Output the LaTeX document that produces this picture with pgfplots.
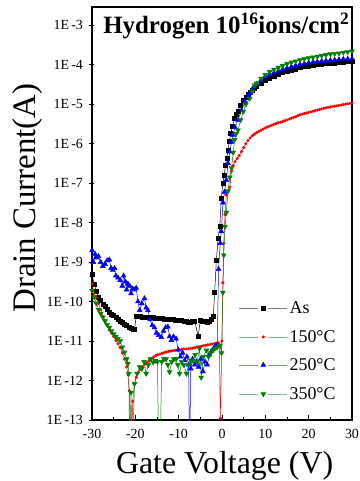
\documentclass[border=0pt]{standalone}
\usepackage{fontspec}
\setmainfont{Liberation Serif}
\usepackage{pgfplots}
\pgfplotsset{compat=1.18}
\definecolor{dgreen}{RGB}{0,128,0}
\newcommand{\tl}[1]{\textrm{\fontsize{14}{16}\selectfont #1}}
\pgfplotsset{
  helper/.style={at={(0,0)}, anchor=south west, scale only axis, width=260bp, height=413bp,
    hide axis, xmin=0, xmax=1, ymin=0, ymax=1,
    legend style={draw=none, fill=none, font=\fontsize{18}{20}\selectfont, inner sep=0pt, anchor=west},
    legend cell align=left,
    legend image code/.code={
      \draw[##1,mark=none,draw opacity=0.5] (0bp,0bp) -- (19bp,0bp);
      \draw[##1,mark=none,draw opacity=0.5] (29bp,0bp) -- (48bp,0bp);
      \draw[##1,only marks] plot coordinates {(24bp,0bp)};
    }},
}
\begin{document}
\begin{tikzpicture}
\useasboundingbox (-92bp,-61bp) rectangle (268bp,420bp);
\begin{axis}[
  at={(0,0)}, anchor=south west,
  scale only axis, width=260bp, height=413bp,
  xmin=-30, xmax=30,
  ymode=log, ymin=1e-13, ymax=2.9e-3,
  xtick={-30,-20,-10,0,10,20,30},
  xticklabels={\tl{-30},\tl{-20},\tl{-10},\tl{0},\tl{10},\tl{20},\tl{30}},
  minor x tick num=1,
  ytick={1e-13,1e-12,1e-11,1e-10,1e-9,1e-8,1e-7,1e-6,1e-5,1e-4,1e-3},
  yticklabels={\tl{1E\,-13},\tl{1E\,-12},\tl{1E\,-11},\tl{1E\,-10},\tl{1E\,-9},\tl{1E\,-8},\tl{1E\,-7},\tl{1E\,-6},\tl{1E\,-5},\tl{1E\,-4},\tl{1E\,-3}},
  yminorticks=false,
  xtick pos=bottom, ytick pos=left,
  xtick align=inside, ytick align=center,
  major tick length=5bp, minor tick length=3bp,
  axis line style={line width=1.2bp},
  every tick/.style={line width=0.9bp, black},
  xticklabel style={yshift=-6bp},
  yticklabel style={xshift=-3bp},
  xlabel={Gate Voltage (V)},
  ylabel={Drain Current(A)},
  xlabel style={font=\fontsize{32}{36}\selectfont, at={(axis description cs:0.51,0)}, anchor=base, yshift=-53bp},
  ylabel style={font=\fontsize{33}{36}\selectfont, at={(axis description cs:-0.246,0.5375)}, anchor=center, rotate=0},
  clip=true,
]
\node[anchor=base west, font=\fontsize{25}{28}\selectfont\bfseries] at (axis description cs:0.03,0.937) {Hydrogen 10\textsuperscript{16}ions/cm\textsuperscript{2}};

% As
\addplot[black, line width=0.5bp, mark=square*, mark size=2bp] coordinates {
(-30,5.0e-10)(-29.5,2.8e-10)(-29,1.8e-10)(-28.5,1.3e-10)(-28,1.05e-10)(-27.5,8.7e-11)(-27,7.4e-11)(-26.5,6.3e-11)(-26,5.4e-11)(-25.5,4.8e-11)(-25,4.4e-11)(-24.5,4.0e-11)(-24,3.5e-11)(-23.5,3.2e-11)(-23,2.95e-11)(-22.5,2.7e-11)(-22,2.45e-11)(-21.5,2.3e-11)(-21,2.15e-11)(-20.5,2.0e-11)(-20.2,1.95e-11)
(-19.8,4.2e-11)(-19.3,4.3e-11)(-18.8,4.2e-11)(-18.3,4.1e-11)(-17.8,4.1e-11)(-17.3,4.0e-11)(-16.8,4.0e-11)(-16.3,3.9e-11)(-15.8,3.9e-11)(-15.3,3.85e-11)(-14.8,3.8e-11)(-14.3,3.75e-11)(-13.8,3.7e-11)(-13.3,3.65e-11)(-12.8,3.6e-11)(-12.3,3.55e-11)(-11.8,3.5e-11)(-11.3,3.5e-11)(-10.8,3.45e-11)(-10.3,3.4e-11)(-9.8,3.35e-11)(-9.3,3.3e-11)(-8.8,3.2e-11)(-8.3,3.1e-11)(-7.8,3.05e-11)(-7.3,2.95e-11)(-6.8,3.1e-11)(-6.3,3.2e-11)(-5.5,1.35e-11)(-5.0,3.3e-11)(-4.5,3.2e-11)(-4.0,3.15e-11)(-3.5,3.0e-11)(-3.0,3.2e-11)(-2.5,3.55e-11)(-2.0,4.2e-11)
(-1.7,1.7e-10)(-1.3,1.1e-9)(-0.9,4.0e-9)(-0.5,8.3e-9)(-0.15,4.2e-8)(0.2,1.0e-7)(0.5,1.6e-7)(0.8,2.8e-7)(1.1,4.3e-7)(1.4,7.0e-7)(1.7,1.15e-6)(2.0,1.8e-6)(2.4,2.7e-6)(2.9,4.4e-6)(3.3,5.6e-6)(3.7,6.8e-6)(4.3,9.5e-6)(4.9,1.26e-5)(5.5,1.5e-5)(6.0,1.8e-5)(6.5,2.05e-5)(7.0,2.3e-5)(7.5,2.5e-5)(8.0,2.8e-5)(9.0,3.3e-5)(10,4.0e-5)(11,4.5e-5)(12,5.0e-5)(13,5.6e-5)(14,6.3e-5)(15,6.9e-5)(16,7.4e-5)(17,7.9e-5)(18,8.5e-5)(19,9.0e-5)(20,9.3e-5)(21,9.7e-5)(22,1.0e-4)(23,1.04e-4)(24,1.07e-4)(25,1.1e-4)(26,1.12e-4)(27,1.15e-4)(28,1.17e-4)(29,1.19e-4)(30,1.2e-4)
};

% 150C
\addplot[red, line width=0.5bp, mark=*, mark size=1.3bp] coordinates {
(-30,2.8e-10)(-29.5,1.6e-10)(-29,1.25e-10)(-28.5,8.9e-11)(-28,6.3e-11)(-27.5,4.2e-11)(-27,3.3e-11)(-26.5,2.5e-11)(-26,1.9e-11)(-25.5,1.6e-11)(-25,1.3e-11)(-24.5,1.05e-11)(-24,8.5e-12)(-23.5,6.8e-12)(-23,5.0e-12)(-22.5,3.5e-12)(-22,2.2e-12)(-21.7,1.4e-12)(-21.4,5.5e-13)(-21.0,1.0e-14)(-20.6,3.0e-13)(-20.2,8.0e-13)(-19.8,1.2e-12)(-19.3,1.6e-12)(-18.8,1.9e-12)(-18.3,2.2e-12)(-17.8,2.6e-12)(-17.3,2.9e-12)(-16.8,3.2e-12)(-16.3,3.6e-12)(-15.8,3.9e-12)(-15.3,4.3e-12)(-14.8,4.5e-12)(-14.3,4.7e-12)(-13.8,4.9e-12)(-13.3,5.1e-12)(-12.8,5.3e-12)(-12.3,5.5e-12)(-11.8,5.6e-12)(-11.3,5.7e-12)(-10.8,5.8e-12)(-10.3,5.9e-12)(-9.8,6.0e-12)(-9.3,6.2e-12)(-8.8,6.3e-12)(-8.3,6.3e-12)(-7.8,6.4e-12)(-7.3,6.5e-12)(-6.8,6.6e-12)(-6.3,6.8e-12)(-5.8,7.0e-12)(-5.3,7.2e-12)(-4.8,7.4e-12)(-4.3,7.6e-12)(-3.8,7.8e-12)(-3.3,8.0e-12)(-2.8,8.2e-12)(-2.3,8.4e-12)(-1.8,8.6e-12)(-1.3,8.8e-12)(-0.9,9.0e-12)(-0.6,8.0e-12)(-0.4,1.1e-13)(0.0,1.0e-11)
(0.2,3.0e-10)(0.4,3.0e-9)(0.7,1.6e-8)(1.0,5.0e-8)(1.4,6.3e-8)(1.8,7.9e-8)(2.2,2.0e-7)(2.6,2.8e-7)(3.0,3.5e-7)(3.5,4.2e-7)(4.0,5.0e-7)(4.5,6.3e-7)(5.0,7.9e-7)(5.5,1.0e-6)(6.0,1.2e-6)(6.5,1.4e-6)(7.0,1.6e-6)(7.5,1.75e-6)(8.0,1.9e-6)(8.5,2.05e-6)(9.0,2.2e-6)(9.5,2.35e-6)(10,2.5e-6)(10.5,2.65e-6)(11,2.8e-6)(11.5,2.95e-6)(12,3.1e-6)(12.5,3.25e-6)(13,3.4e-6)(13.5,3.5e-6)(14,3.6e-6)(14.5,3.8e-6)(15,4.0e-6)(15.5,4.2e-6)(16,4.4e-6)(16.5,4.6e-6)(17,4.8e-6)(17.5,5.1e-6)(18,5.4e-6)(18.5,5.6e-6)(19,5.8e-6)(19.5,6.0e-6)(20,6.2e-6)(20.5,6.4e-6)(21,6.6e-6)(21.5,6.85e-6)(22,7.1e-6)(22.5,7.35e-6)(23,7.6e-6)(23.5,7.85e-6)(24,8.1e-6)(24.5,8.3e-6)(25,8.5e-6)(25.5,8.7e-6)(26,8.9e-6)(26.5,9.1e-6)(27,9.3e-6)(27.5,9.55e-6)(28,9.8e-6)(28.5,1.0e-5)(29,1.03e-5)(29.5,1.05e-5)(30,1.07e-5)
};

% 250C
\addplot[blue, line width=0.5bp, mark=triangle*, mark size=2.8bp] coordinates {
(-30,2.0e-9)(-29.7,1.0e-9)(-29.3,1.6e-9)(-29,1.3e-9)(-28.5,1.4e-9)(-28,1.0e-9)(-27.5,7.9e-10)(-27,8.9e-10)(-26.5,1.1e-9)(-26,1.15e-9)(-25.6,7.0e-10)(-25.2,6.3e-10)(-24.8,7.0e-10)(-24.5,4.5e-10)(-24,4.0e-10)(-23.5,3.5e-10)(-23,2.5e-10)(-22.7,4.5e-10)(-22.3,3.2e-10)(-22,2.0e-10)(-21.7,2.8e-10)(-21.3,2.5e-10)(-21,1.6e-10)(-20.6,2.1e-10)(-20.2,2.0e-10)(-19.8,2.2e-10)(-19.4,1.0e-10)(-19.0,6.0e-11)(-18.5,9.0e-11)(-17.9,1.2e-10)(-17.5,7.0e-11)(-17.1,6.0e-11)(-16.6,3.5e-11)(-16.1,2.5e-11)(-15.6,2.2e-11)(-15.1,1.6e-11)(-14.6,1.4e-11)(-14.0,1.25e-11)(-13.5,1.8e-11)(-13.0,2.2e-11)(-12.5,2.3e-11)(-12.1,1.3e-11)(-11.7,1.05e-11)(-11.2,1.3e-11)(-10.6,1.15e-11)(-10.1,6.0e-12)(-9.6,4.0e-12)(-9.1,5.0e-12)(-8.6,3.2e-12)(-8.1,4.0e-12)(-7.7,2.5e-12)(-7.5,1.0e-14)(-7.2,2.0e-12)(-6.8,3.5e-12)(-6.3,2.5e-12)(-5.9,3.0e-12)(-5.4,2.2e-12)(-4.9,3.5e-12)(-4.4,1.7e-12)(-3.9,3.0e-12)(-3.4,2.5e-12)(-2.9,4.5e-12)(-2.4,5.5e-12)(-1.9,6.5e-12)(-1.5,7.5e-12)(-1.1,8.0e-12)
(-0.8,6.6e-10)(-0.4,3.0e-9)(-0.15,6.0e-9)(0.23,3.2e-8)(0.6,6.0e-8)(1.0,1.2e-7)(1.4,3.2e-7)(1.8,6.3e-7)(2.2,1.1e-6)(2.5,1.66e-6)(3.0,2.6e-6)(3.7,4.0e-6)(4.5,7.0e-6)(5.3,1.15e-5)(6.0,1.6e-5)(6.5,1.9e-5)(7.0,2.4e-5)(7.5,2.8e-5)(8.0,3.2e-5)(9.0,4.0e-5)(10,5.0e-5)(11,5.6e-5)(12,6.3e-5)(13,6.9e-5)(14,7.6e-5)(15,8.3e-5)(16,8.9e-5)(17,9.5e-5)(18,1.02e-4)(19,1.07e-4)(20,1.12e-4)(21,1.17e-4)(22,1.2e-4)(23,1.23e-4)(24,1.26e-4)(25,1.29e-4)(26,1.32e-4)(27,1.35e-4)(28,1.38e-4)(29,1.4e-4)(30,1.41e-4)
};

% 350C
\addplot[dgreen, line width=0.5bp, mark=triangle*, mark size=2.8bp, mark options={rotate=180}] coordinates {
(-30,1.9e-10)(-29.5,1.3e-10)(-29,9.0e-11)(-28.5,6.3e-11)(-28,5.0e-11)(-27.5,4.0e-11)(-27,3.2e-11)(-26.5,2.6e-11)(-26,2.2e-11)(-25.5,1.8e-11)(-25,1.5e-11)(-24.5,1.3e-11)(-24,1.15e-11)(-23.5,1.0e-11)(-23,7.0e-12)(-22.5,5.2e-12)(-22,3.5e-12)(-21.7,2.7e-12)(-21.5,1.5e-12)(-21.3,1.0e-14)(-21.0,5.0e-13)(-20.7,1.0e-14)(-20.2,8.3e-13)(-19.6,1.5e-12)(-19.0,2.2e-12)(-18.5,2.0e-12)(-18.0,3.0e-12)(-17.5,1.5e-12)(-17.0,2.5e-12)(-16.5,3.5e-12)(-15.9,2.9e-12)(-15.4,3.2e-12)(-14.9,3.0e-12)(-14.6,1.0e-14)(-14.3,1.0e-14)(-13.9,3.0e-12)(-13.4,3.5e-12)(-12.9,3.5e-12)(-12.5,2.5e-12)(-12.1,1.65e-12)(-11.6,3.0e-12)(-11.1,3.5e-12)(-10.6,3.5e-12)(-10.2,2.5e-12)(-9.8,1.5e-12)(-9.3,3.0e-12)(-8.8,2.5e-12)(-8.2,1.5e-12)(-7.7,2.5e-12)(-7.2,3.2e-12)(-6.7,3.2e-12)(-6.2,4.5e-12)(-5.7,3.0e-12)(-5.2,6.5e-12)(-4.8,1.2e-12)(-4.3,4.0e-12)(-3.6,5.8e-12)(-3.1,4.0e-12)(-2.6,5.0e-12)(-2.1,5.8e-12)(-1.6,6.5e-12)(-1.1,7.0e-12)(-0.5,7.8e-12)(-0.1,5.0e-12)
(0.2,1.7e-10)(0.4,1.5e-9)(0.7,8.0e-9)(1.0,1.8e-8)(1.4,6.3e-8)(1.8,1.4e-7)(2.2,2.4e-7)(2.6,6.0e-7)(2.9,1.26e-6)(3.3,1.8e-6)(3.7,2.2e-6)(4.3,4.0e-6)(4.9,6.5e-6)(5.5,1.0e-5)(6.4,1.4e-5)(7.0,2.1e-5)(7.5,3.0e-5)(8.0,3.4e-5)(9.0,4.5e-5)(10,5.6e-5)(11,6.6e-5)(12,7.6e-5)(13,8.5e-5)(14,9.5e-5)(15,1.05e-4)(16,1.15e-4)(17,1.23e-4)(18,1.32e-4)(19,1.4e-4)(20,1.48e-4)(21,1.55e-4)(22,1.62e-4)(23,1.7e-4)(24,1.78e-4)(25,1.86e-4)(26,1.9e-4)(27,1.95e-4)(28,2.04e-4)(29,2.1e-4)(30,2.2e-4)
};
\end{axis}

\begin{axis}[helper, legend style={at={(axis description cs:0.565,0.271)}}]
\addlegendimage{black, line width=0.5bp, mark=square*, mark size=2bp}
\addlegendentry{As}
\end{axis}
\begin{axis}[helper, legend style={at={(axis description cs:0.565,0.201)}}]
\addlegendimage{red, line width=0.5bp, mark=*, mark size=1.3bp}
\addlegendentry{150\textdegree C}
\end{axis}
\begin{axis}[helper, legend style={at={(axis description cs:0.565,0.133)}}]
\addlegendimage{blue, line width=0.5bp, mark=triangle*, mark size=2.8bp}
\addlegendentry{250\textdegree C}
\end{axis}
\begin{axis}[helper, legend style={at={(axis description cs:0.565,0.063)}}]
\addlegendimage{dgreen, line width=0.5bp, mark=triangle*, mark size=2.8bp, mark options={rotate=180}}
\addlegendentry{350\textdegree C}
\end{axis}
\end{tikzpicture}
\end{document}
